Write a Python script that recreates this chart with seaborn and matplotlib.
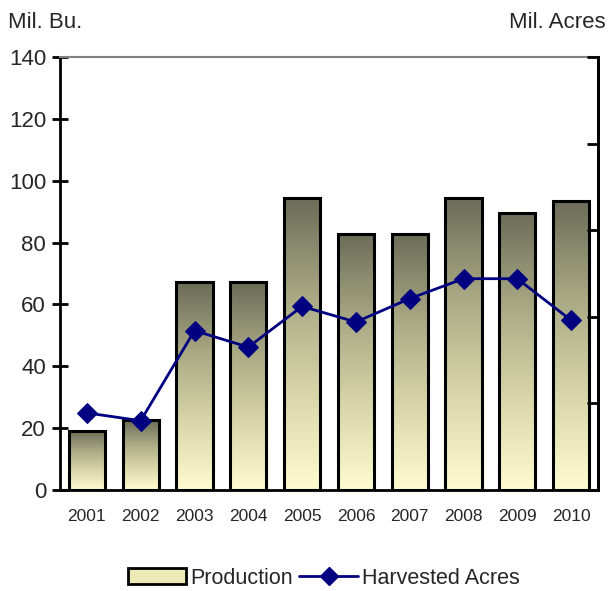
import numpy as np
import pandas as pd
import matplotlib
matplotlib.use("Agg")
import matplotlib.pyplot as plt
import seaborn as sns
from matplotlib.colors import LinearSegmentedColormap
from matplotlib.lines import Line2D
from matplotlib.patches import Patch

years = ["2001", "2002", "2003", "2004", "2005", "2006", "2007", "2008", "2009", "2010"]
production = [19.2, 22.5, 67.2, 67.2, 94.4, 82.8, 82.8, 94.4, 89.6, 93.6]
harvested_acres = [0.89, 0.80, 1.84, 1.65, 2.12, 1.94, 2.21, 2.44, 2.44, 1.96]
left_ticks = [0, 20, 40, 60, 80, 100, 120, 140]
right_ticks = [0, 1, 2, 3, 4, 5]

sns.set_style("white")
plt.rcParams['font.family'] = ['Liberation Sans', 'DejaVu Sans']

df = pd.DataFrame({"Year": years, "Production": production, "Acres": harvested_acres})

fig = plt.figure(figsize=(6.11, 5.91), dpi=100)
ax = fig.add_axes([60/611, 1 - 490/591, 538/611, 433/591])

sns.barplot(data=df, x="Year", y="Production", ax=ax, width=0.67,
            color="#c0c09a", edgecolor="black", linewidth=2.2, zorder=2)

cmap = LinearSegmentedColormap.from_list("g", ["#fffcd0", "#d8d6a8", "#a8a884", "#6c6c58"])
grad = np.linspace(0, 1, 256).reshape(-1, 1)
for p in ax.patches:
    x0, y0 = p.get_x(), p.get_y()
    w, h = p.get_width(), p.get_height()
    im = ax.imshow(grad, cmap=cmap, origin="lower", aspect="auto",
                   extent=[x0, x0 + w, y0, y0 + h], zorder=2.5)
    im.set_clip_path(p)
    p.set_facecolor("none")
    p.set_zorder(3)

ax.set_xlim(-0.5, 9.5)
ax.set_ylim(0, 140)
ax.set_yticks(left_ticks)
ax.set_yticklabels([str(t) for t in left_ticks], fontsize=16)
ax.set_xticks(range(len(years)))
ax.set_xticklabels(years, fontsize=12.5)
ax.set_xticks(np.arange(0.5, 9.5, 1), minor=True)
ax.tick_params(axis="x", which="major", length=0, pad=14)
ax.tick_params(axis="x", which="minor", direction="out", length=7, width=2, color="black")
ax.tick_params(axis="y", direction="inout", length=12, width=2, color="black", pad=4, left=True)
ax.set_xlabel("")
ax.set_ylabel("")
for s in ["left", "bottom"]:
    ax.spines[s].set_color("black")
    ax.spines[s].set_linewidth(2)
ax.spines["top"].set_color("#808080")
ax.spines["top"].set_linewidth(1.5)
ax.spines["right"].set_color("black")
ax.spines["right"].set_linewidth(2)

ax2 = ax.twinx()
sns.lineplot(x=list(range(len(years))), y=harvested_acres, ax=ax2, color="#000080",
             marker="D", markersize=10, linewidth=2, markeredgecolor="#000080", zorder=5)
ax2.set_ylim(0, 5)
ax2.set_yticks(right_ticks)
ax2.set_yticklabels([])
ax2.tick_params(axis="y", direction="in", length=8, width=2, color="black", right=True)
for s in ax2.spines.values():
    s.set_visible(False)
ax2.spines["right"].set_visible(True)
ax2.spines["right"].set_color("black")
ax2.spines["right"].set_linewidth(2)
ax2.set_xlim(-0.5, 9.5)

fig.text(8/611, 1 - 22/591, "Mil. Bu.", fontsize=16, va="center", ha="left")
fig.text(606/611, 1 - 22/591, "Mil. Acres", fontsize=16, va="center", ha="right")

handles = [Patch(facecolor="#eeeab8", edgecolor="black", linewidth=2),
           Line2D([0], [0], color="#000080", marker="D", markersize=9, linewidth=2)]
fig.legend(handles, ["Production", "Harvested Acres"], loc="center",
           bbox_to_anchor=(0.53, 1 - 578/591), ncol=2, frameon=False, fontsize=15.5,
           handlelength=2.7, handletextpad=0.2, columnspacing=0.3)

fig.savefig("out.png", dpi=100)
